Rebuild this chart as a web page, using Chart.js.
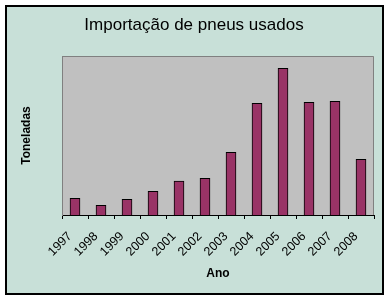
<!DOCTYPE html>
<html>
<head>
<meta charset="utf-8">
<script src="https://cdn.jsdelivr.net/npm/chart.js@4"></script>
<style>
  html, body { margin: 0; padding: 0; background: #ffffff; }
  #wrap { width: 390px; height: 301px; position: relative; }
</style>
</head>
<body>
<div id="wrap"><canvas id="c" width="390" height="301"></canvas></div>
<script>
const categories = ["1997","1998","1999","2000","2001","2002","2003","2004","2005","2006","2007","2008"];
const values = [16.7, 9.7, 15.7, 23.7, 34, 36.7, 62.7, 111.7, 146.7, 112.7, 113.7, 55.7];
const yMax = 159;

const frame = {
  id: 'frame',
  beforeDraw(chart) {
    const ctx = chart.ctx;
    const a = chart.chartArea;
    ctx.save();
    ctx.fillStyle = '#ffffff';
    ctx.fillRect(0, 0, chart.width, chart.height);
    ctx.fillStyle = '#c8e0d8';
    ctx.fillRect(6, 6, 377, 288);
    ctx.lineWidth = 2;
    ctx.strokeStyle = '#000000';
    ctx.strokeRect(6, 6, 377, 288);
    ctx.fillStyle = '#c0c0c0';
    ctx.fillRect(a.left, a.top, a.right - a.left, a.bottom - a.top);
    ctx.lineWidth = 1;
    ctx.strokeStyle = '#808080';
    ctx.beginPath();
    ctx.moveTo(a.left + 0.5, a.bottom);
    ctx.lineTo(a.left + 0.5, a.top + 0.5);
    ctx.lineTo(a.right - 0.5, a.top + 0.5);
    ctx.lineTo(a.right - 0.5, a.bottom);
    ctx.stroke();
    ctx.restore();
  }
};

new Chart(document.getElementById('c'), {
  type: 'bar',
  data: {
    labels: categories,
    datasets: [{
      data: values,
      backgroundColor: '#993366',
      borderColor: '#000000',
      borderWidth: 1,
      barThickness: 10
    }]
  },
  plugins: [frame],
  options: {
    responsive: false,
    animation: false,
    layout: { padding: { left: 14, right: 16, top: 0, bottom: 0 } },
    plugins: {
      legend: { display: false },
      tooltip: { enabled: false },
      title: {
        display: true,
        text: 'Importação de pneus usados',
        color: '#000000',
        font: { family: 'Arial, "Liberation Sans", sans-serif', size: 17, weight: 'normal' },
        padding: { top: 14.8, bottom: 20.8 }
      }
    },
    scales: {
      x: {
        offset: true,
        grid: {
          display: true,
          offset: true,
          drawOnChartArea: false,
          drawTicks: true,
          tickLength: 4,
          color: '#000000'
        },
        border: { display: true, color: '#000000', width: 1 },
        ticks: {
          color: '#000000',
          minRotation: 45,
          maxRotation: 45,
          padding: 10,
          labelOffset: -5,
          font: { family: 'Arial, "Liberation Sans", sans-serif', size: 12.5 }
        },
        title: {
          display: true,
          text: 'Ano',
          color: '#000000',
          font: { family: 'Arial, "Liberation Sans", sans-serif', size: 12, weight: 'bold' },
          padding: { top: 0, bottom: 20.5 }
        },
        afterFit(scale) { scale.height = 86; }
      },
      y: {
        min: 0,
        max: yMax,
        grid: { display: false },
        border: { display: true, color: '#808080', width: 1 },
        ticks: { display: false },
        title: {
          display: true,
          text: 'Toneladas',
          color: '#000000',
          font: { family: 'Arial, "Liberation Sans", sans-serif', size: 12, weight: 'bold' },
          padding: { top: 5.8, bottom: 0 }
        },
        afterFit(scale) { scale.width = 48; }
      }
    }
  }
});
</script>
</body>
</html>
